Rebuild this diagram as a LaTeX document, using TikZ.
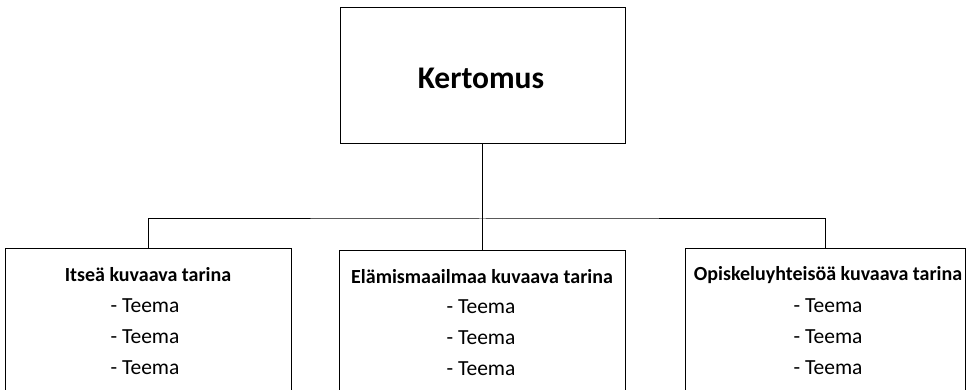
\documentclass[tikz,border=0pt]{standalone}
\usepackage{fontspec}
\setmainfont{Carlito}
\begin{document}
\begin{tikzpicture}[x=1pt,y=-1pt,
  box/.style={draw=black,line width=1pt,fill=white,inner sep=0pt},
  head/.style={font=\fontsize{20}{24}\selectfont\bfseries,inner sep=0pt,anchor=center},
  item/.style={font=\fontsize{21.5}{24}\selectfont,inner sep=0pt,anchor=center},
  link/.style={draw=black,line width=1pt}]
\useasboundingbox (0,0) rectangle (975,390);
\clip (0,0) rectangle (975,390);

% main story box
\node[box,minimum width=285pt,minimum height=136pt] (root) at (482.5,76) {};
\node[font=\fontsize{31.5}{36}\selectfont\bfseries,inner sep=0pt] (roottxt) at (481,78) {Kertomus};

% three story boxes, running past the lower edge
\node[box,minimum width=286pt,minimum height=170pt] (left) at (148,334) {};
\node[box,minimum width=286pt,minimum height=170pt] (mid) at (482,336) {};
\node[box,minimum width=280pt,minimum height=170pt] (right) at (825,334) {};

% connectors
\coordinate (bus) at (482.5,219);
\draw[link] (root.south) -- (bus);
\draw[link] (left.north) |- (bus) -| (right.north);
\draw[link] (bus) -- (bus |- mid.north);

% texts of the left box
\node[head] (lt) at (148,275) {Itseä kuvaava tarina};
\node[item] (l1) at (145,306) {- Teema};
\node[item] (l2) at (145,337) {- Teema};
\node[item] (l3) at (145,368) {- Teema};

% texts of the middle box
\node[head] (mt) at (482,277) {Elämismaailmaa kuvaava tarina};
\node[item] (m1) at (481,307) {- Teema};
\node[item] (m2) at (481,338) {- Teema};
\node[item] (m3) at (481,369) {- Teema};

% texts of the right box
\node[head] (rt) at (828,275) {Opiskeluyhteisöä kuvaava tarina};
\node[item] (r1) at (828,306) {- Teema};
\node[item] (r2) at (828,337) {- Teema};
\node[item] (r3) at (828,368) {- Teema};
\end{tikzpicture}
\end{document}
